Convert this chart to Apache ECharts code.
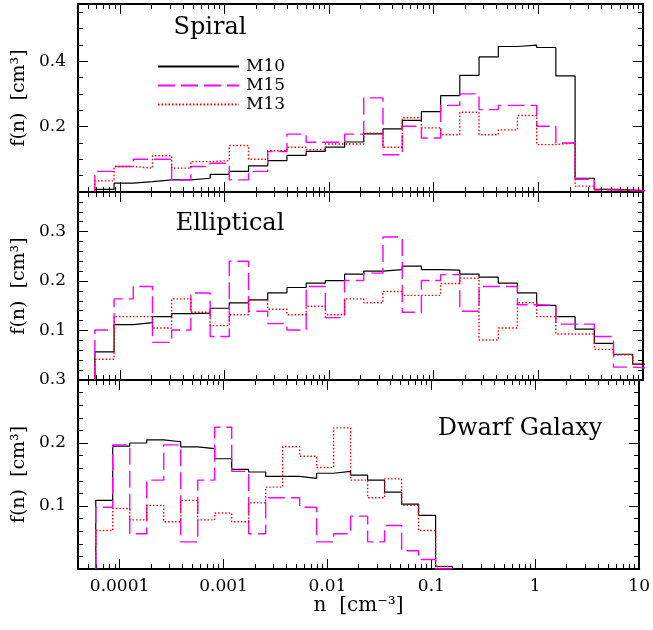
<!DOCTYPE html>
<html>
<head>
<meta charset="utf-8">
<script src="https://cdn.jsdelivr.net/npm/echarts@6/dist/echarts.min.js"></script>
<style>
  html, body { margin: 0; padding: 0; background: #fff; }
  #chart { width: 653px; height: 630px; }
</style>
</head>
<body>
<div id="chart"></div>
<script>
// histogram bin edges, in log10(n)
var edgesSpiral = [-4.239, -4.055, -3.872, -3.688, -3.505, -3.321, -3.137, -2.954, -2.770, -2.587,
  -2.403, -2.219, -2.036, -1.852, -1.669, -1.485, -1.301, -1.118, -0.934, -0.751,
  -0.567, -0.383, -0.200, -0.016, 0.167, 0.351, 0.535, 0.718, 0.902, 1.085];
var edgesElliptical = edgesSpiral;
var edgesDwarf = [-4.229, -4.066, -3.902, -3.739, -3.575, -3.412, -3.248, -3.085, -2.921, -2.758,
  -2.594, -2.431, -2.267, -2.104, -1.940, -1.777, -1.613, -1.450, -1.286, -1.123, -0.959, -0.796];

// f(n) per bin
var spiralM10 = [0.008, 0.027, 0.032, 0.037, 0.037, 0.042, 0.054, 0.063, 0.080, 0.096, 0.112, 0.124, 0.137, 0.153,
  0.178, 0.193, 0.219, 0.246, 0.295, 0.357, 0.413, 0.445, 0.449, 0.442, 0.355, 0.042, 0.008, 0.006, 0.003];
var spiralM15 = [0.063, 0.078, 0.100, 0.100, 0.037, 0.078, 0.088, 0.037, 0.063, 0.124, 0.177, 0.152, 0.152, 0.177,
  0.288, 0.114, 0.201, 0.165, 0.265, 0.300, 0.252, 0.265, 0.265, 0.201, 0.150, 0.039, 0.006, 0.004, 0.003];
var spiralM13 = [0.034, 0.078, 0.073, 0.111, 0.073, 0.093, 0.096, 0.142, 0.100, 0.126, 0.137, 0.129, 0.147, 0.147,
  0.180, 0.137, 0.227, 0.196, 0.175, 0.244, 0.175, 0.190, 0.234, 0.145, 0.150, 0.018, 0.008, 0.006, 0.004];

var ellM10 = [0.057, 0.112, 0.116, 0.128, 0.134, 0.135, 0.145, 0.156, 0.162, 0.176, 0.187, 0.196, 0.201, 0.214,
  0.220, 0.223, 0.230, 0.223, 0.222, 0.214, 0.208, 0.196, 0.176, 0.151, 0.128, 0.103, 0.074, 0.052, 0.032];
var ellM15 = [0.101, 0.164, 0.189, 0.076, 0.101, 0.176, 0.088, 0.240, 0.139, 0.114, 0.101, 0.189, 0.126, 0.201,
  0.216, 0.289, 0.137, 0.201, 0.213, 0.139, 0.189, 0.189, 0.152, 0.151, 0.113, 0.113, 0.088, 0.026, 0.024];
var ellM13 = [0.042, 0.128, 0.128, 0.105, 0.164, 0.137, 0.110, 0.132, 0.162, 0.143, 0.132, 0.149, 0.132, 0.164,
  0.156, 0.179, 0.171, 0.171, 0.195, 0.206, 0.081, 0.105, 0.156, 0.128, 0.093, 0.093, 0.062, 0.051, 0.032];

var dwarfM10 = [0.109, 0.195, 0.200, 0.205, 0.202, 0.194, 0.191, 0.175, 0.158, 0.154, 0.147,
  0.147, 0.144, 0.152, 0.155, 0.149, 0.141, 0.122, 0.103, 0.085, 0.004];
var dwarfM15 = [0.098, 0.197, 0.056, 0.141, 0.197, 0.043, 0.141, 0.225, 0.155, 0.056, 0.113,
  0.113, 0.098, 0.043, 0.056, 0.084, 0.043, 0.069, 0.029, 0.015, 0.000];
var dwarfM13 = [0.061, 0.096, 0.078, 0.101, 0.075, 0.109, 0.078, 0.089, 0.075, 0.105, 0.130,
  0.194, 0.179, 0.161, 0.224, 0.141, 0.113, 0.143, 0.101, 0.061, 0.004];

var xTickValues = [-4, -3, -2, -1, 0, 1];
var xTickLabels = ['0.0001', '0.001', '0.01', '0.1', '1', '10'];
var panelNames = ['Spiral', 'Elliptical', 'Dwarf Galaxy'];
var yMax = [0.575, 0.38, 0.3];
var yLabelTicks = [[0.2, 0.4], [0.1, 0.2, 0.3], [0.1, 0.2, 0.3]];
var yMinorStep = [0.05, 0.02, 0.02];

var FONT = 'DejaVu Serif';
var X_MIN = -4.4, X_MAX = 1;

var panels = [
  { edges: edgesSpiral, sets: [['M10', spiralM10], ['M15', spiralM15], ['M13', spiralM13]] },
  { edges: edgesElliptical, sets: [['M10', ellM10], ['M15', ellM15], ['M13', ellM13]] },
  { edges: edgesDwarf, sets: [['M10', dwarfM10], ['M15', dwarfM15], ['M13', dwarfM13]] }
];

var lineStyles = {
  M10: { color: '#000000', width: 1.2, type: 'solid' },
  M15: { color: '#ff00ff', width: 1.4, type: [17, 6] },
  M13: { color: '#ff0000', width: 1.4, type: [1.5, 2] }
};

// minor ticks of the log axis: 2..9 x 10^d
var xMinor = [];
for (var d = -5; d <= 0; d++) {
  for (var k = 2; k <= 9; k++) {
    var v = d + Math.log10(k);
    if (v > X_MIN && v < X_MAX) xMinor.push(v);
  }
}

function stepPoints(edges, vals) {
  var pts = [[edges[0], 0]];
  for (var i = 0; i < vals.length; i++) {
    pts.push([edges[i], vals[i]]);
    pts.push([edges[i + 1], vals[i]]);
  }
  pts.push([edges[vals.length], 0]);
  return pts;
}

var grids = [], xAxes = [], yAxes = [], series = [];
var gridTops = [4, 192, 380], gridHeights = [188, 188, 189];

function xAxis(gi, pos, ticks, len, showLine, withLabels) {
  return {
    type: 'value', gridIndex: gi, position: pos, min: X_MIN, max: X_MAX,
    axisLine: { show: showLine, onZero: false, lineStyle: { color: '#000', width: 2 } },
    axisTick: { show: true, inside: true, length: len, customValues: ticks, lineStyle: { color: '#000', width: 1 } },
    axisLabel: withLabels ? {
      customValues: xTickValues, margin: 9, color: '#000', fontFamily: FONT, fontSize: 17,
      formatter: function (v) { return xTickLabels[xTickValues.indexOf(Math.round(v))]; }
    } : { show: false },
    splitLine: { show: false }
  };
}

function yAxis(gi, pos, ticks, len, showLine, withLabels) {
  var ax = {
    type: 'value', gridIndex: gi, position: pos, min: 0, max: yMax[gi],
    axisLine: { show: showLine, onZero: false, lineStyle: { color: '#000', width: 2 } },
    axisTick: { show: true, inside: true, length: len, customValues: ticks, lineStyle: { color: '#000', width: 1 } },
    axisLabel: withLabels ? {
      customValues: yLabelTicks[gi], margin: 12, color: '#000', fontFamily: FONT, fontSize: 17,
      formatter: function (v) { return v.toFixed(1); }
    } : { show: false },
    splitLine: { show: false }
  };
  if (withLabels) {
    ax.name = 'f(n)  [cm\u00b3]';
    ax.nameLocation = 'middle';
    ax.nameGap = 46;
    ax.nameTextStyle = { color: '#000', fontFamily: FONT, fontSize: 19 };
  }
  return ax;
}

panels.forEach(function (p, gi) {
  grids.push({ left: 78, right: 10, top: gridTops[gi], height: gridHeights[gi] });

  var yMajor = yLabelTicks[gi].filter(function (v) { return v < yMax[gi] - 1e-9; });
  var yMinor = [];
  var step = yMinorStep[gi];
  for (var i = 1; i * step < yMax[gi] - 1e-9; i++) {
    var val = +(i * step).toFixed(3);
    if (yLabelTicks[gi].indexOf(val) < 0) yMinor.push(val);
  }

  xAxes.push(xAxis(gi, 'bottom', xTickValues, 10, true, gi === 2));
  xAxes.push(xAxis(gi, 'bottom', xMinor, 5, false, false));
  xAxes.push(xAxis(gi, 'top', xTickValues, 10, true, false));
  xAxes.push(xAxis(gi, 'top', xMinor, 5, false, false));
  yAxes.push(yAxis(gi, 'left', yMajor, 10, true, true));
  yAxes.push(yAxis(gi, 'left', yMinor, 5, false, false));
  yAxes.push(yAxis(gi, 'right', yMajor, 10, true, false));
  yAxes.push(yAxis(gi, 'right', yMinor, 5, false, false));

  p.sets.forEach(function (s) {
    series.push({
      type: 'line', name: s[0], xAxisIndex: gi * 4, yAxisIndex: gi * 4,
      data: stepPoints(p.edges, s[1]), symbol: 'none', clip: true,
      lineStyle: lineStyles[s[0]], itemStyle: { color: lineStyles[s[0]].color }
    });
  });
});

xAxes[8].name = 'n  [cm\u207b\u00b3]';
xAxes[8].nameLocation = 'middle';
xAxes[8].nameGap = 26;
xAxes[8].nameTextStyle = { color: '#000', fontFamily: FONT, fontSize: 20 };

var chart = echarts.init(document.getElementById('chart'), null, { renderer: 'canvas' });
chart.setOption({
  animation: false,
  backgroundColor: '#fff',
  grid: grids,
  xAxis: xAxes,
  yAxis: yAxes,
  legend: {
    data: ['M10', 'M15', 'M13'], orient: 'vertical', left: 152, top: 52,
    itemWidth: 81, itemHeight: 10, itemGap: 0, selectedMode: false,
    itemStyle: { opacity: 0 },
    textStyle: { color: '#000', fontFamily: FONT, fontSize: 17, lineHeight: 19, padding: [0, 0, 0, 2] }
  },
  graphic: [
    { type: 'text', x: 210, y: 28, style: { text: panelNames[0], fontFamily: FONT, fontSize: 24, fill: '#000', align: 'center', verticalAlign: 'middle' } },
    { type: 'text', x: 230, y: 224, style: { text: panelNames[1], fontFamily: FONT, fontSize: 24, fill: '#000', align: 'center', verticalAlign: 'middle' } },
    { type: 'text', x: 520, y: 429, style: { text: panelNames[2], fontFamily: FONT, fontSize: 24, fill: '#000', align: 'center', verticalAlign: 'middle' } }
  ],
  series: series
});
</script>
</body>
</html>
